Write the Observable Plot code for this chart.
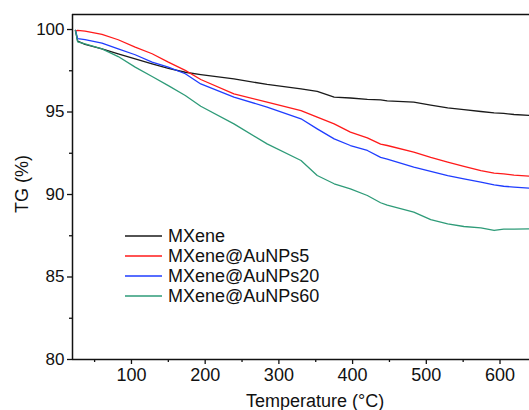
<!DOCTYPE html>
<html>
<head>
<meta charset="utf-8">
<script src="https://cdn.jsdelivr.net/npm/d3@7"></script>
<script src="https://cdn.jsdelivr.net/npm/@observablehq/plot@0.6"></script>
<style>
  html, body { margin: 0; padding: 0; background: #fff; }
  #chart { width: 529px; height: 410px; }
</style>
</head>
<body>
<div id="chart"></div>
<script>
const temps = [24, 27, 37, 60, 82, 105, 128, 150, 173, 194, 239, 284, 330, 352, 375, 397, 420, 438, 447, 483, 506, 529, 551, 574, 592, 605, 619, 640];
const mxene = [99.95, 99.3, 99.1, 98.83, 98.53, 98.22, 97.92, 97.65, 97.41, 97.27, 97.01, 96.67, 96.4, 96.25, 95.9, 95.85, 95.76, 95.74, 95.68, 95.6, 95.42, 95.25, 95.15, 95.03, 94.95, 94.92, 94.85, 94.79];
const au5 = [99.9, 99.95, 99.9, 99.7, 99.38, 98.93, 98.53, 98.02, 97.52, 96.97, 96.1, 95.6, 95.09, 94.69, 94.28, 93.78, 93.43, 93.05, 92.97, 92.57, 92.25, 91.96, 91.7, 91.45, 91.3, 91.25, 91.18, 91.11];
const au20 = [99.95, 99.45, 99.39, 99.17, 98.83, 98.47, 98.02, 97.72, 97.32, 96.7, 95.9, 95.3, 94.59, 93.98, 93.37, 92.97, 92.67, 92.25, 92.15, 91.66, 91.4, 91.15, 90.95, 90.75, 90.58, 90.5, 90.45, 90.38];
const au60 = [99.95, 99.25, 99.13, 98.83, 98.36, 97.72, 97.15, 96.6, 96.0, 95.35, 94.28, 93.07, 92.06, 91.15, 90.65, 90.34, 89.94, 89.5, 89.35, 88.93, 88.48, 88.22, 88.06, 87.98, 87.82, 87.9, 87.9, 87.92];

const seriesNames = ["MXene", "MXene@AuNPs5", "MXene@AuNPs20", "MXene@AuNPs60"];
const seriesValues = [mxene, au5, au20, au60];
const seriesColors = ["#1a1a1a", "#ff1a1a", "#1f3dff", "#2e9b78"];

const xMajor = [100, 200, 300, 400, 500, 600];
const xMinor = [50, 150, 250, 350, 450, 550];
const yMajor = [80, 85, 90, 95, 100];
const yMinor = [82.5, 87.5, 92.5, 97.5];

const rows = [];
seriesNames.forEach((name, i) => {
  temps.forEach((t, j) => rows.push({series: name, T: t, TG: seriesValues[i][j]}));
});

const font = "Liberation Sans, Arial, Helvetica, sans-serif";

const plot = Plot.plot({
  width: 529,
  height: 410,
  marginLeft: 72,
  marginRight: 0,
  marginTop: 14,
  marginBottom: 51,
  style: {fontFamily: font, background: "#fff", color: "#111"},
  x: {domain: [20, 640]},
  y: {domain: [80, 100.91]},
  color: {domain: seriesNames, range: seriesColors},
  marks: [
    Plot.line(rows, {x: "T", y: "TG", z: "series", stroke: "series", strokeWidth: 1.3}),
    Plot.axisX({ticks: xMajor, tickSize: 5, tickPadding: 4, fontSize: 18, label: null, stroke: "#111", strokeWidth: 1.3}),
    Plot.axisX({ticks: xMinor, tickSize: 3, tickFormat: () => "", label: null, stroke: "#111", strokeWidth: 1.3}),
    Plot.axisY({ticks: yMajor, tickSize: 5, tickPadding: 3, fontSize: 17, label: null, stroke: "#111", strokeWidth: 1.3}),
    Plot.axisY({ticks: yMinor, tickSize: 3, tickFormat: () => "", label: null, stroke: "#111", strokeWidth: 1.3}),
    Plot.ruleX([20], {stroke: "#111", strokeWidth: 1.5}),
    Plot.ruleY([80, 100.91], {stroke: "#111", strokeWidth: 1.5}),
    Plot.text(["Temperature (°C)"], {frameAnchor: "bottom", dx: 14, dy: 42, fontSize: 18, fill: "#111", lineAnchor: "middle"}),
    Plot.text(["TG (%)"], {frameAnchor: "left", dx: -50, dy: -3, rotate: -90, fontSize: 18, fill: "#111", lineAnchor: "middle", textAnchor: "middle"})
  ]
});

// legend drawn inside the plot area
const svg = d3.select(plot);
const leg = svg.append("g").attr("font-family", font).attr("font-size", 18).attr("text-anchor", "start");
seriesNames.forEach((name, i) => {
  const cy = 236 + i * 20;
  leg.append("line").attr("x1", 125).attr("x2", 162).attr("y1", cy).attr("y2", cy)
    .attr("stroke", seriesColors[i]).attr("stroke-width", 1.3);
  leg.append("text").attr("x", 168).attr("y", cy).attr("dy", "0.35em")
    .attr("text-anchor", "start").attr("fill", "#111").text(name);
});

document.getElementById("chart").appendChild(plot);
</script>
</body>
</html>
